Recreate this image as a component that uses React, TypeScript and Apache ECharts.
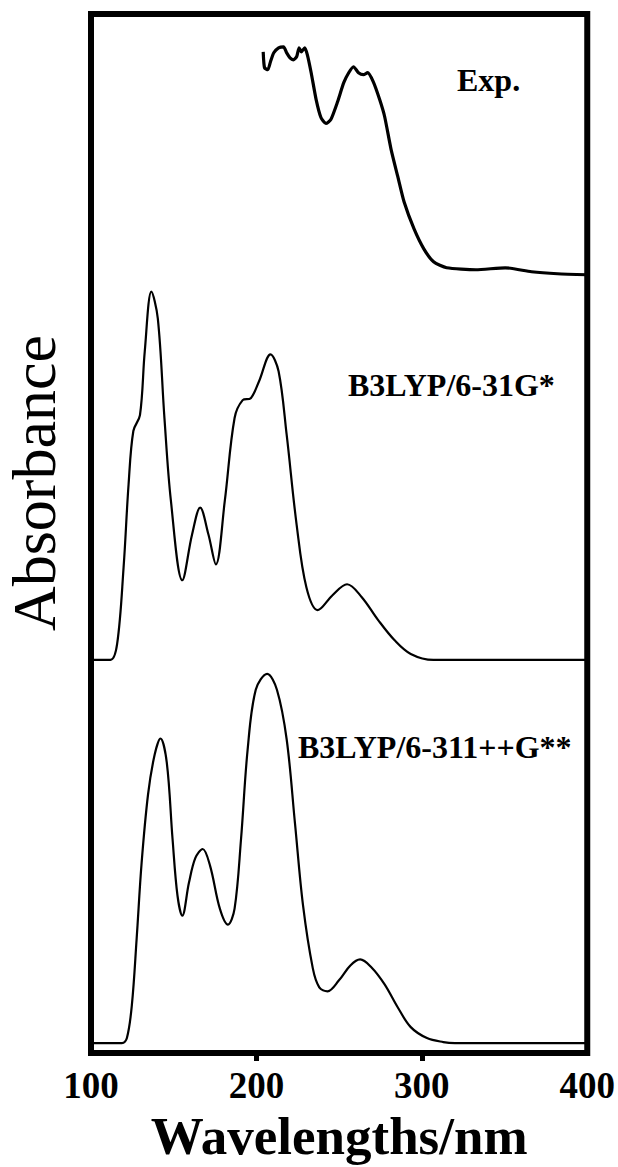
import React, { useEffect, useRef } from "react";
import * as echarts from "echarts";

// Wavelength axis
const xTicks = [100, 200, 300, 400];
const tickMarks = [200, 300];

// Bottom curve: B3LYP/6-311++G**
const lambda311 = [100, 118.7, 121.7, 124.7, 127.6, 130.6, 134.5, 138.5, 142, 145.8, 149.3, 152.3, 155.2, 159.2, 163.1, 167.5, 172, 177.9, 182.8, 186.8, 190.7, 194.7, 199.6, 206.5, 212.4, 218.3, 223.3, 228.2, 234.1, 238, 243, 249.9, 256.8, 262.7, 269.6, 277.5, 285.4, 293.3, 303.1, 313, 320, 400];
const abs311 = [0, 0, 0.05, 0.38, 1.05, 1.81, 2.5, 2.9, 3.06, 2.82, 2.05, 1.48, 1.28, 1.61, 1.86, 1.95, 1.78, 1.35, 1.19, 1.35, 2.05, 2.95, 3.55, 3.71, 3.55, 3.05, 2.21, 1.38, 0.75, 0.56, 0.52, 0.63, 0.78, 0.84, 0.76, 0.59, 0.36, 0.16, 0.05, 0.01, 0, 0];

// Middle curve: B3LYP/6-31G*
const lambda31 = [100, 111.8, 115.8, 119.7, 122.7, 125.6, 129.6, 132.5, 136.5, 140.4, 144.4, 148.3, 155.2, 161.1, 166, 171, 175.5, 180.9, 186.8, 191.7, 196.6, 201.6, 208.5, 213.4, 218.3, 224.3, 230.2, 237.1, 246, 254.8, 263.7, 273.6, 283.4, 293.3, 307, 400];
const abs31 = [0, 0, 0.16, 0.93, 1.76, 2.3, 2.46, 3.1, 3.7, 3.43, 2.43, 1.6, 0.8, 1.26, 1.53, 1.26, 0.96, 1.6, 2.43, 2.61, 2.63, 2.8, 3.07, 2.9, 2.26, 1.36, 0.73, 0.5, 0.65, 0.76, 0.63, 0.4, 0.2, 0.06, 0, 0];

// Top curve: experimental
const lambdaExp = [204.1, 204.9, 206.9, 208.5, 210.5, 213.4, 216.4, 218.3, 220.3, 222.3, 224.3, 225.8, 227.2, 229.2, 230.8, 233.1, 236.1, 239, 242, 245, 248.9, 252.8, 255.8, 258.7, 261.7, 264.7, 267.2, 270.6, 274.5, 277.5, 281.4, 285.4, 289.3, 295.3, 301.2, 307.1, 315, 332.7, 350.4, 366.3, 382, 400];
const absExp = [2.24, 2.08, 2.06, 2.14, 2.23, 2.28, 2.29, 2.23, 2.18, 2.16, 2.19, 2.28, 2.24, 2.28, 2.21, 2.03, 1.76, 1.58, 1.52, 1.56, 1.73, 1.93, 2.03, 2.09, 2.03, 2.01, 2.03, 1.94, 1.76, 1.59, 1.26, 0.99, 0.73, 0.46, 0.26, 0.13, 0.07, 0.05, 0.07, 0.03, 0.01, 0];

// vertical stacking offsets of the three spectra
const offset311 = 0.1;
const offset31 = 3.95;
const offsetExp = 7.82;
const yMax = 10.44;

const labels = ["Exp.", "B3LYP/6-31G*", "B3LYP/6-311++G**"];

const pairs = (xs: number[], ys: number[], off: number) => xs.map((x, i) => [x, ys[i] + off]);

export default function App() {
  const ref = useRef<HTMLDivElement>(null);
  useEffect(() => {
    if (!ref.current) return;
    const chart = echarts.init(ref.current, null, { renderer: "svg" });
    const serif = "'Liberation Serif', 'Times New Roman', serif";
    chart.setOption({
      animation: false,
      backgroundColor: "#fff",
      grid: {
        left: 91,
        right: 23,
        top: 14,
        bottom: 109,
        show: true,
        borderColor: "#000",
        borderWidth: 6,
        backgroundColor: "transparent",
      },
      xAxis: {
        type: "value",
        min: 100,
        max: 400,
        interval: 100,
        name: "Wavelengths/nm",
        nameLocation: "middle",
        nameGap: 56,
        nameTextStyle: { fontFamily: serif, fontWeight: "bold", fontSize: 53, color: "#000" },
        axisLine: { show: false },
        axisTick: { show: true, inside: false, length: 8, lineStyle: { color: "#000", width: 5 }, customValues: tickMarks },
        axisLabel: {
          fontFamily: serif,
          fontWeight: "bold",
          fontSize: 37,
          color: "#000",
          margin: 14,
          customValues: xTicks,
        },
        splitLine: { show: false },
      },
      yAxis: {
        type: "value",
        min: 0,
        max: yMax,
        axisLine: { show: false },
        axisTick: { show: false },
        axisLabel: { show: false },
        splitLine: { show: false },
      },
      graphic: [
        {
          type: "text",
          x: 34,
          y: 483,
          rotation: Math.PI / 2,
          style: { text: "Absorbance", font: `normal 62px ${serif}`, fill: "#000", textAlign: "center", textVerticalAlign: "middle" },
        },
        {
          type: "text",
          x: 457,
          y: 80,
          style: { text: labels[0], font: `bold 32px ${serif}`, fill: "#000", textAlign: "left", textVerticalAlign: "middle" },
        },
        {
          type: "text",
          x: 348,
          y: 385,
          style: { text: labels[1], font: `bold 32px ${serif}`, fill: "#000", textAlign: "left", textVerticalAlign: "middle" },
        },
        {
          type: "text",
          x: 298,
          y: 747,
          style: { text: labels[2], font: `bold 32px ${serif}`, fill: "#000", textAlign: "left", textVerticalAlign: "middle" },
        },
      ],
      series: [
        {
          type: "line",
          name: labels[2],
          data: pairs(lambda311, abs311, offset311),
          showSymbol: false,
          smooth: 0.35,
          lineStyle: { color: "#000", width: 2.2 },
        },
        {
          type: "line",
          name: labels[1],
          data: pairs(lambda31, abs31, offset31),
          showSymbol: false,
          smooth: 0.35,
          lineStyle: { color: "#000", width: 2.2 },
        },
        {
          type: "line",
          name: labels[0],
          data: pairs(lambdaExp, absExp, offsetExp),
          showSymbol: false,
          smooth: 0.2,
          lineStyle: { color: "#000", width: 3.2 },
        },
      ],
    });
    return () => chart.dispose();
  }, []);
  return <div ref={ref} style={{ position: "absolute", left: 0, top: 0, width: 618, height: 1167 }} />;
}
